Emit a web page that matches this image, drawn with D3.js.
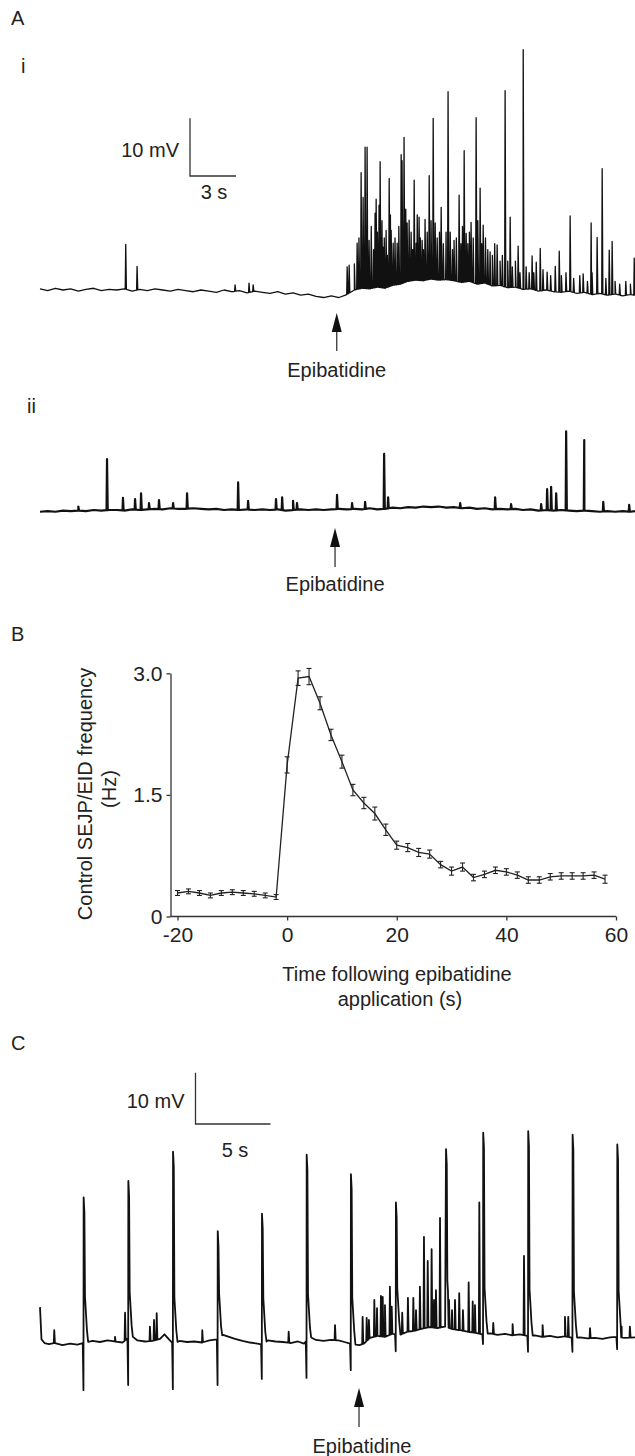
<!DOCTYPE html>
<html><head><meta charset="utf-8">
<script src="https://cdn.jsdelivr.net/npm/d3@7"></script>
<style>
html,body{margin:0;padding:0;background:#fff;}
svg text{font-family:"Liberation Sans",Arial,sans-serif;fill:#222;}
</style></head>
<body>
<svg id="fig" width="635" height="1456"></svg>
<script>
// ---------------- DATA ----------------
// Panel A i : baseline [time s, mV] and events [time s, peak mV]
const aiBase = [
 [0,0.2],[0.5,-0.1],[1,0.3],[1.5,0.0],[2,0.2],[2.5,-0.2],[3,0.1],[3.5,0.3],[4,-0.1],[4.5,0.1],
 [5,0.0],[5.5,0.2],[6,-0.2],[6.5,0.1],[7,-0.1],[7.5,0.2],[8,0.0],[8.5,-0.2],[9,0.1],[9.5,-0.1],
 [10,-0.3],[10.5,0.0],[11,-0.2],[11.5,-0.4],[12,0.0],[12.5,-0.3],[13,-0.1],[13.5,-0.5],[14,-0.2],[14.5,-0.4],
 [15,-0.6],[15.5,-0.3],[16,-0.7],[16.5,-0.5],[17,-0.9],[17.5,-0.7],[18,-1.1],[18.5,-1.3],[19,-1.0],[19.5,-1.3],
 [20,-0.8],[20.5,0.0],[21,0.3],[21.5,0.2],[22,0.5],[22.5,0.3],[23,0.8],[23.5,1.0],[24,1.5],[24.5,1.7],
 [25,1.6],[25.5,1.9],[26,1.7],[26.5,1.8],[27,1.6],[27.5,1.3],[28,1.5],[28.5,1.0],[29,1.2],[29.5,0.7],
 [30,0.8],[30.5,0.4],[31,0.5],[31.5,0.1],[32,0.2],[32.5,-0.2],[33,0.0],[33.5,-0.3],[34,-0.4],[34.5,-0.2],
 [35,-0.6],[35.5,-0.4],[36,-0.8],[36.5,-0.6],[37,-0.9],[37.5,-0.7],[38,-1.0],[38.5,-0.8],[38.8,-0.9]
];
const aiEvents = [
 [5.59,7.9],[6.33,4.1],[12.72,0.9],[13.63,1.2],[13.9,0.9],
 [20.03,4.0],[20.16,4.3],[20.5,4.5],[20.68,8.1],[20.8,9],[20.94,20.3],[21.07,16.0],[21.2,24.7],[21.33,24.7],
 [21.46,8.6],[21.6,11],[21.75,7],[21.85,13.3],[21.92,15.7],[22.0,10],[22.11,14.7],[22.18,22.2],[22.3,12],
 [22.37,7.4],[22.45,9],[22.57,10.3],[22.65,6],[22.77,19.3],[22.85,13],[22.9,10.3],[23.03,8.1],[23.15,9],
 [23.29,8.1],[23.4,11],[23.55,23.4],[23.61,22.4],[23.74,26.4],[23.85,14],[23.94,11.6],[24.07,12.1],
 [24.2,10],[24.3,7],[24.4,19.0],[24.53,8.1],[24.6,13],[24.72,12.6],[24.8,9],[24.92,8.6],[25.0,7],
 [25.11,12.2],[25.25,10],[25.38,19.8],[25.5,12],[25.64,29.7],[25.77,11.6],[25.9,9],[26.05,10],[26.16,14.3],
 [26.3,8],[26.48,10.0],[26.61,34.3],[26.75,10],[26.9,7],[27.0,8.6],[27.15,9],[27.33,16.4],[27.45,8],
 [27.55,11],[27.66,24.1],[27.79,9.8],[27.9,8],[28.0,10],[28.11,11.7],[28.25,9],[28.44,29.8],[28.55,12],
 [28.7,17.6],[28.8,8],[28.9,11.2],[29.05,9],[29.2,7],[29.35,6.6],[29.5,6],[29.65,8],[29.81,7.8],[30.0,5],
 [30.15,6],[30.33,34.5],[30.5,5],[30.66,12.6],[30.8,4],[31.0,5],[31.18,7.6],[31.3,3],[31.51,41.6],[31.7,4],
 [31.9,3],[32.09,5.9],[32.2,3],[32.36,4.8],[32.62,7.2],[32.8,3.5],[33.07,3.1],[33.3,2.5],[33.6,4.1],
 [33.86,6.7],[34.0,2.5],[34.3,3],[34.57,12.8],[34.8,2],[35.2,2.5],[35.42,2.8],[35.7,1.5],[35.94,11.6],
 [36.0,3],[36.33,9.1],[36.66,21.0],[36.9,2],[37.12,6.9],[37.31,8.4],[37.5,1.5],[37.8,1],[38.2,1.5],
 [38.5,1],[38.75,5.5]
];
const aiArrow = 19.35;

// Panel A ii
const aiiBase = [
 [0,-0.3],[0.5,-0.2],[1,-0.3],[1.5,-0.1],[2,-0.2],[2.5,-0.1],[3,-0.2],[3.5,0.0],[4,-0.1],[4.5,0.0],
 [5,0.0],[5.5,-0.1],[6,0.1],[6.5,0.0],[7,0.1],[7.5,0.2],[8,0.1],[8.5,0.3],[9,0.2],[9.5,0.2],
 [10,0.3],[10.5,0.2],[11,0.1],[11.5,0.2],[12,0.0],[12.5,0.1],[13,0.0],[13.5,0.1],[14,0.0],[14.5,0.1],
 [15,0.0],[15.5,0.1],[16,-0.1],[16.5,0.0],[17,0.1],[17.5,0.0],[18,0.1],[18.5,0.0],[19,0.1],[19.5,0.2],
 [20,0.1],[20.5,0.2],[21,0.1],[21.5,0.3],[22,0.1],[22.5,0.2],[23,0.4],[23.5,0.3],[24,0.5],[24.5,0.4],
 [25,0.6],[25.5,0.5],[26,0.6],[26.5,0.4],[27,0.5],[27.5,0.3],[28,0.4],[28.5,0.2],[29,0.3],[29.5,0.1],
 [30,0.2],[30.5,0.1],[31,0.2],[31.5,0.0],[32,0.1],[32.5,-0.1],[33,0.0],[33.5,-0.1],[34,0.0],[34.5,-0.1],
 [35,-0.2],[35.5,-0.1],[36,-0.2],[36.5,-0.3],[37,-0.2],[37.5,-0.3],[38,-0.2],[38.5,-0.3],[38.8,-0.2]
];
const aiiEvents = [
 [2.5,0.6],[4.37,8.8],[5.41,2.1],[6.2,1.9],[6.59,2.9],[7.11,1.2],[7.76,1.7],[8.68,1.2],[9.59,2.9],
 [12.92,4.8],[13.57,1.6],[15.39,1.9],[15.79,2.2],[16.5,1.6],[16.76,1.2],[19.37,2.6],[20.35,1.2],
 [21.2,1.4],[22.44,9.7],[22.7,2.2],[27.4,1.2],[29.68,2.2],[30.72,1.0],[32.68,1.0],[33.07,3.6],
 [33.33,4.0],[33.66,2.9],[34.31,13.6],[35.49,12.1],[36.73,1.4],[38.42,0.9]
];
const aiiArrow = 19.24;

// Panel B : SEJP/EID frequency (Hz) vs time (s)
const bTime = [-20,-18,-16,-14,-12,-10,-8,-6,-4,-2,0,2,4,6,8,10,12,14,16,18,20,22,24,26,28,30,32,34,36,38,40,42,44,46,48,50,52,54,56,58];
const bMean = [0.29,0.31,0.29,0.26,0.29,0.30,0.29,0.28,0.26,0.24,
               1.87,2.94,2.96,2.63,2.24,1.91,1.56,1.40,1.27,1.07,
               0.88,0.85,0.79,0.77,0.64,0.56,0.61,0.48,0.52,0.57,
               0.55,0.51,0.45,0.45,0.49,0.50,0.50,0.50,0.51,0.46];
const bErr  = [0.03,0.03,0.03,0.03,0.03,0.03,0.03,0.03,0.03,0.03,
               0.10,0.09,0.10,0.08,0.07,0.08,0.07,0.07,0.08,0.07,
               0.05,0.05,0.05,0.05,0.04,0.05,0.05,0.04,0.04,0.04,
               0.04,0.04,0.04,0.04,0.04,0.04,0.04,0.04,0.04,0.05];
const bYTicks = [0, 1.5, 3.0];
const bXTicks = [-20, 0, 20, 40, 60];

// Panel C
const cBase = [
 [0,6.8],[0.1,0.5],[0.3,-0.2],[0.6,-0.4],[1.0,-0.2],[1.5,-0.6],[2.0,-0.3],[2.5,-0.5],[3.0,-0.1],[3.5,0.2],
 [4.0,0.0],[4.5,0.3],[5.0,0.1],[5.5,-0.1],[5.8,0.6],[6.2,1.0],[6.5,0.3],[7.0,0.1],[7.5,0.2],[8.0,0.6],
 [8.3,1.5],[8.6,0.5],[8.9,-0.4],[9.3,0.2],[9.8,0.0],[10.3,0.1],[10.8,-0.1],[11.3,0.3],[11.8,0.5],[12.2,1.4],
 [12.6,1.0],[13.0,0.6],[13.5,0.2],[14.0,-0.1],[14.5,-0.3],[14.8,-0.5],[15.2,0.3],[15.7,0.1],[16.2,0.0],[16.7,-0.2],
 [17.2,0.1],[17.6,-0.3],[18.0,1.0],[18.4,0.4],[18.9,0.2],[19.4,0.4],[19.9,0.3],[20.3,0.0],[20.8,-0.4],[21.3,-0.6],
 [21.6,-0.3],[22.0,0.8],[22.5,1.2],[23.0,1.0],[23.5,1.6],[24.0,1.4],[24.5,2.0],[25.0,2.2],[25.5,2.6],[26.0,2.9],
 [26.5,2.7],[27.0,3.0],[27.5,2.5],[28.0,2.3],[28.5,2.0],[29.0,1.8],[29.5,1.5],[30.0,1.7],[30.5,1.4],[31.0,1.6],
 [31.5,1.3],[32.0,1.5],[32.5,1.2],[33.0,1.3],[33.5,1.0],[34.0,1.2],[34.5,0.9],[35.0,1.1],[35.5,0.8],[36.0,0.9],
 [36.5,0.7],[37.0,0.8],[37.5,0.6],[38.0,0.9],[38.5,1.0],[39.0,0.8],[39.67,0.9]
];
// big action potentials: [time s, peak mV, negative deflection mV (null = none)]
const cAPs = [
 [2.91,28.2,-9.4],[5.89,31.4,-8.4],[8.87,37.1,-9.2],[11.85,21.6,-8.4],[14.8,25.0,-7.2],[17.78,36.5,-7.0],
 [20.73,32.7,-5.5],[23.73,27.2,-1.8],[27.07,37.6,null],[29.55,40.8,-0.4],[32.55,41.1,-1.9],[35.51,40.4,-1.9],
 [38.49,38.5,-1.4]
];
const cEvents = [
 [0.95,2.3],[5.0,1.0],[5.67,5.7],[7.33,3.0],[7.6,4.3],[7.78,5.6],[10.82,2.3],[16.58,2.0],[19.67,3.3],
 [21.51,4.9],[21.78,4.7],[21.93,4.3],[22.29,8.2],[22.47,6.6],[22.73,9.0],[22.85,8.8],[23.0,7.2],[23.33,10.8],
 [23.45,6.9],[24.15,5.7],[24.53,8.6],[24.89,8.6],[25.07,6.2],[25.33,10.8],[25.6,20.5],[25.85,15.8],
 [26.11,18.1],[26.27,8.2],[26.4,10.1],[26.67,24.2],[27.27,8.2],[27.47,6.2],[27.67,8.2],[27.95,9.5],
 [28.2,6.2],[28.58,11.6],[28.85,7.9],[29.0,7.2],[29.29,27.2],[30.22,3.7],[31.51,3.5],[32.27,16.8],
 [33.51,3.3],[35.0,4.9],[35.22,4.9],[36.67,2.7],[38.78,3.0],[39.33,3.0]
];
const cArrow = 21.27;

// ---------------- DRAWING ----------------
const svg = d3.select("#fig");

function baseAt(base, t){
  if (t <= base[0][0]) return base[0][1];
  for (let i=1;i<base.length;i++){
    if (t <= base[i][0]){
      const a=base[i-1], b=base[i];
      return a[1] + (b[1]-a[1])*(t-a[0])/(b[0]-a[0]);
    }
  }
  return base[base.length-1][1];
}
function buildTrace(base, events, aps){
  const pts = base.map(d=>[d[0],d[1],true]);
  events.forEach(([t,p])=>{
    pts.push([t-0.03, baseAt(base,t-0.03)], [t,p], [t+0.045, baseAt(base,t+0.045)]);
  });
  (aps||[]).forEach(([t,p,n])=>{
    const b = baseAt(base,t);
    pts.push([t-0.06, baseAt(base,t-0.06)]);
    if (n!==null) pts.push([t-0.012, n]);
    pts.push([t,p],[t+0.05,p-3],[t+0.09,b+9],[t+0.13,b+7],[t+0.22,b+2.5],[t+0.3,baseAt(base,t+0.3)]);
  });
  const filtered = pts.filter(d=> !(d[2] && (aps||[]).some(([t])=> d[0]>t-0.06 && d[0]<t+0.3)));
  filtered.sort((a,b)=>a[0]-b[0]);
  return filtered;
}
function drawTrace(pts, x, y, width){
  svg.append("path")
    .attr("d", d3.line().x(d=>x(d[0])).y(d=>y(d[1]))(pts))
    .attr("fill","none").attr("stroke","#111")
    .attr("stroke-width",width).attr("stroke-linejoin","round");
}
function drawArrow(ax, top, bottom, label, labelY, labelX){
  svg.append("line").attr("x1",ax).attr("x2",ax).attr("y1",top+15).attr("y2",bottom)
    .attr("stroke","#444").attr("stroke-width",1.4);
  svg.append("path").attr("d",`M${ax},${top} L${ax-5},${top+19} L${ax+5},${top+19} Z`).attr("fill","#111");
  svg.append("text").attr("x",labelX).attr("y",labelY).attr("text-anchor","middle")
    .attr("font-size",20).text(label);
}
function scaleBar(x0, y0, x, y, sec, mv, secLabel, mvLabel, secLabelX, secLabelY, mvLabelY){
  const h = y(0)-y(mv), w = x(sec)-x(0);
  svg.append("path").attr("d",`M${x0},${y0-h} L${x0},${y0} L${x0+w},${y0}`)
    .attr("fill","none").attr("stroke","#333").attr("stroke-width",1.3);
  svg.append("text").attr("x",x0-11).attr("y",mvLabelY).attr("text-anchor","end").attr("font-size",20).text(mvLabel);
  svg.append("text").attr("x",secLabelX).attr("y",secLabelY).attr("text-anchor","middle").attr("font-size",20).text(secLabel);
}
function panelLabel(txt, x, y){
  svg.append("text").attr("x",x).attr("y",y).attr("font-size",20).text(txt);
}

// Panel letters
panelLabel("A",11,25); panelLabel("i",21,73); panelLabel("ii",27,413);
panelLabel("B",11,641); panelLabel("C",11,1050);

// ---- A i ----
const xAi = d3.scaleLinear().domain([0,38.8]).range([40,635]);
const yAi = d3.scaleLinear().domain([0,10]).range([290,232.2]);
scaleBar(190,176,xAi,yAi,3,10,"3 s","10 mV",214,199,157);
drawTrace(buildTrace(aiBase, aiEvents), xAi, yAi, 1.3);
drawArrow(xAi(aiArrow), 313, 351, "Epibatidine", 377, xAi(aiArrow));

// ---- A ii ----
const xAii = d3.scaleLinear().domain([0,38.8]).range([40,635]);
const yAii = d3.scaleLinear().domain([0,10]).range([510,452.2]);
drawTrace(buildTrace(aiiBase, aiiEvents), xAii, yAii, 2.2);
drawArrow(xAii(aiiArrow), 528, 567, "Epibatidine", 591, xAii(aiiArrow));

// ---- B ----
const xB = d3.scaleLinear().domain([-20,60]).range([177.5,616]);
const yB = d3.scaleLinear().domain([0,3]).range([916.5,673.3]);
const axX0 = 170.5;
const gy = svg.append("g").attr("transform",`translate(${axX0},0)`)
  .call(d3.axisLeft(yB).tickValues(bYTicks).tickSize(4).tickSizeOuter(0).tickPadding(4)
        .tickFormat(d=> d===0 ? "0" : d3.format(".1f")(d)));
gy.selectAll("text").attr("font-size",21).style("font-family",'"Liberation Sans",Arial,sans-serif').attr("fill","#222");
gy.selectAll("path,line").attr("stroke","#333").attr("stroke-width",1.3);
const gx = svg.append("g").attr("transform",`translate(0,${yB(0)})`)
  .call(d3.axisBottom(xB).tickValues(bXTicks).tickSize(4).tickSizeOuter(0).tickPadding(7)
        .tickFormat(d=>String(d)));
gx.select(".domain").remove();
gx.selectAll("text").attr("font-size",21).style("font-family",'"Liberation Sans",Arial,sans-serif').attr("fill","#222");
gx.selectAll("line").attr("stroke","#333").attr("stroke-width",1.3);
svg.append("line").attr("x1",axX0).attr("x2",xB(60)).attr("y1",yB(0)).attr("y2",yB(0))
  .attr("stroke","#333").attr("stroke-width",1.3);

const bData = bTime.map((t,i)=>({t, m:bMean[i], e:bErr[i]}));
svg.append("path").attr("d", d3.line().x(d=>xB(d.t)).y(d=>yB(d.m))(bData))
  .attr("fill","none").attr("stroke","#222").attr("stroke-width",1.3);
const eb = svg.append("g").attr("stroke","#222").attr("stroke-width",1.1);
bData.forEach(d=>{
  const x=xB(d.t), y1=yB(d.m-d.e), y2=yB(d.m+d.e);
  eb.append("line").attr("x1",x).attr("x2",x).attr("y1",y1).attr("y2",y2);
  eb.append("line").attr("x1",x-2.5).attr("x2",x+2.5).attr("y1",y1).attr("y2",y1);
  eb.append("line").attr("x1",x-2.5).attr("x2",x+2.5).attr("y1",y2).attr("y2",y2);
});
svg.append("text").attr("transform","translate(92,794) rotate(-90)").attr("text-anchor","middle")
  .attr("font-size",20).text("Control SEJP/EID frequency");
svg.append("text").attr("transform","translate(116,789) rotate(-90)").attr("text-anchor","middle")
  .attr("font-size",20).text("(Hz)");
svg.append("text").attr("x",397).attr("y",981).attr("text-anchor","middle").attr("font-size",20).text("Time following epibatidine");
svg.append("text").attr("x",400).attr("y",1006).attr("text-anchor","middle").attr("font-size",20).text("application (s)");

// ---- C ----
const xC = d3.scaleLinear().domain([0,39.67]).range([40,635]);
const yC = d3.scaleLinear().domain([0,10]).range([1342,1290.7]);
scaleBar(195.5,1124,xC,yC,5,10,"5 s","10 mV",235,1157,1108);
drawTrace(buildTrace(cBase, cEvents, cAPs), xC, yC, 1.8);
drawArrow(xC(cArrow), 1388, 1427, "Epibatidine", 1453, 362);
</script>
</body></html>
